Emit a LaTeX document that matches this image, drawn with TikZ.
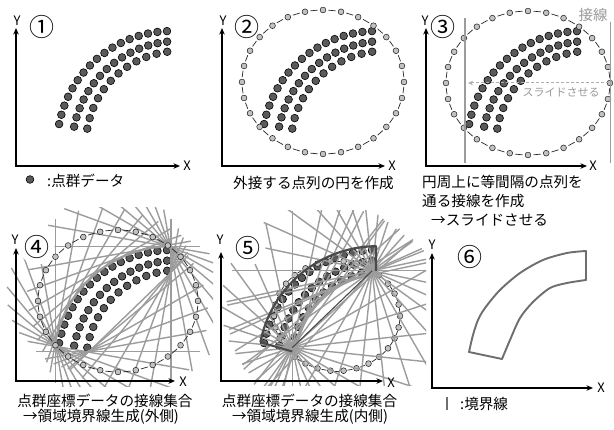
\documentclass[tikz,border=0pt]{standalone}
\usepackage{fontspec}
\setmainfont{Noto Sans CJK JP}
\usetikzlibrary{arrows.meta}
\definecolor{dotfill}{HTML}{5A5A5A}
\definecolor{ringfill}{HTML}{C2C2C2}
\definecolor{tlcol}{HTML}{9C9C9C}
\definecolor{bndcol}{HTML}{6E6E6E}
\definecolor{darkb}{HTML}{4A4A4A}
\definecolor{lgtext}{HTML}{9A9A9A}
\newcommand\banddots{%
  \foreach \cx/\cy/\R/\aa/\bb/\nn in {172/146/115/92.5/169/16,179/148/107/96.4/168.5/14,179/144/93/97.3/170.5/11}{%
    \foreach \k in {0,...,\nn}{%
      \pgfmathsetmacro\tang{\aa+(\bb-\aa)*\k/\nn}%
      \filldraw[bandpt] ({\cx+\R*cos(\tang)},{\cy-\R*sin(\tang)}) circle[radius=3.85];
    }}}
\newcommand\ringdots[6]{%
  \foreach \k in {1,...,#5}{%
    \pgfmathsetmacro\ta{#6+360*(\k+0.3)/#5}%
    \pgfmathsetmacro\tb{#6+360*(\k+0.7)/#5}%
    \draw[ringline] ({#1+#3*cos(\ta)},{#2-#4*sin(\ta)}) -- ({#1+#3*cos(\tb)},{#2-#4*sin(\tb)});
  }
  \foreach \k in {1,...,#5}{%
    \pgfmathsetmacro\ta{#6+360*\k/#5}%
    \filldraw[ringpt] ({#1+#3*cos(\ta)},{#2-#4*sin(\ta)}) circle[radius=2.9];
  }}
\newcommand\normline[6]{%
  \pgfmathsetmacro\prj{(#4-(#1))*sin(#3)+(#5-(#2))*cos(#3)}%
  \pgfmathsetmacro\Mx{#1+\prj*sin(#3)}%
  \pgfmathsetmacro\My{#2+\prj*cos(#3)}%
  \draw[tline] ({\Mx-#6*sin(#3)},{\My-#6*cos(#3)}) -- ({\Mx+#6*sin(#3)},{\My+#6*cos(#3)});}
\newcommand\hulllines[3]{%
  \foreach \ph in {0,10,...,350,314}{%
    \gdef\bestd{-9999}%
    \foreach \cx/\cy/\R/\aa/\bb/\nn in {172/146/115/92.5/169/16,179/148/107/96.4/168.5/14,179/144/93/97.3/170.5/11}{%
      \foreach \k in {0,...,\nn}{%
        \pgfmathsetmacro\tang{\aa+(\bb-\aa)*\k/\nn}%
        \pgfmathsetmacro\Px{\cx+\R*cos(\tang)}%
        \pgfmathsetmacro\Py{\cy-\R*sin(\tang)}%
        \pgfmathsetmacro\dval{\Px*cos(\ph)-\Py*sin(\ph)}%
        \pgfmathsetmacro\better{\dval>\bestd}%
        \ifdim\better pt>0.5pt\xdef\bestd{\dval}\xdef\bx{\Px}\xdef\by{\Py}\fi
      }}%
    \pgfmathsetmacro\Sx{\bx+3.8*cos(\ph)}%
    \pgfmathsetmacro\Sy{\by-3.8*sin(\ph)}%
    \normline{\Sx}{\Sy}{\ph}{#1}{#2}{#3}%
  }}
\begin{document}
\begin{tikzpicture}[x=1pt,y=-1pt,
  bandpt/.style={fill=dotfill, draw=black, line width=0.6pt},
  ringpt/.style={fill=ringfill, draw=black!85, line width=0.55pt},
  ringline/.style={draw=black!85, line width=0.7pt},
  tline/.style={draw=tlcol, line width=1.4pt},
  axisline/.style={line width=1.4pt, arrows={Stealth[length=6.5pt,width=5.5pt]-Stealth[length=6.5pt,width=5.5pt]}},
  captext/.style={inner sep=0pt, font=\fontsize{14.6}{16}\selectfont},
  lab/.style={inner sep=0pt, font=\fontsize{13}{14}\selectfont},
  num/.style={inner sep=0pt, font=\fontsize{25}{26}\selectfont},
  bndline/.style={draw=bndcol, line width=1.9pt, line join=round, line cap=round}]
\useasboundingbox (0,0) rectangle (614,430);
\fill[white] (0,0) rectangle (614,430);

% ---------- panel 1
\banddots
\draw[axisline] (16,28) -- (16,166) -- (180,166);
\node[lab] (y1) at (17,21) {Y};
\node[lab] (x1) at (187,166) {X};
\node[num] (n1) at (42,27) {①};
\filldraw[bandpt] (30,179.5) circle[radius=3.85];
\node[captext, anchor=west] (c1) at (47,180.5) {:点群データ};

% ---------- panel 2
\begin{scope}[shift={(205,0)}]
  \banddots
  \ringdots{118}{82}{81}{72}{28}{90}
\end{scope}
\draw[axisline] (222,28) -- (222,166) -- (385,166);
\node[lab] (y2) at (223,21) {Y};
\node[lab] (x2) at (392,166) {X};
\node[num] (n2) at (247,27) {②};
\node[captext] (c2) at (313.5,183) {外接する点列の円を作成};

% ---------- panel 3
\begin{scope}[shift={(410,0)}]
  \banddots
  \ringdots{118}{83}{82}{72}{28}{90}
\end{scope}
\draw[tline, line width=1.5pt] (465,18) -- (465,163);
\draw[tline, line width=1.5pt] (610.5,22) -- (610.5,163);
\coordinate (sr) at (609,83);
\coordinate (sl) at (468,83);
\draw[draw=lgtext!80, line width=1pt, dash pattern=on 3pt off 2pt, -{Stealth[length=5pt,width=4.5pt]}] (sr) -- (sl);
\node[inner sep=0pt, text=lgtext, font=\fontsize{11}{12}\selectfont] (sl3) at (561,92) {スライドさせる};
\node[inner sep=0pt, text=lgtext, font=\fontsize{14.5}{15}\selectfont] (tg3) at (593,15) {接線};
\draw[axisline] (426,28) -- (426,166) -- (587,166);
\node[lab] (y3) at (425,21) {Y};
\node[lab] (x3) at (593,166) {X};
\node[num] (n3) at (443,27) {③};
\node[captext, anchor=west] (c3a) at (422,182) {円周上に等間隔の点列を};
\node[captext, anchor=west] (c3b) at (422,200.5) {通る接線を作成};
\node[captext, anchor=west] (c3c) at (431,220) {→スライドさせる};

% ---------- panel 4
\begin{scope}[shift={(0,219)}]
  \banddots
\end{scope}
\begin{scope}
  \clip (2,208) rectangle (213,387);
  \begin{scope}[shift={(0,219)}]
    \hulllines{118}{82}{82}
  \end{scope}
\end{scope}
\begin{scope}[shift={(0,219)}]
  \draw[tline, line width=2pt] plot[domain=169:92.5, samples=40, variable=\s] ({172+118.8*cos(\s)},{146-118.8*sin(\s)});
  \ringdots{118}{82}{80}{71}{28}{90}
\end{scope}
\draw[axisline] (16,248) -- (16,381) -- (175,381);
\node[lab] (y4) at (15,240) {Y};
\node[lab] (x4) at (183,382) {X};
\node[num, fill=white, inner sep=0.3pt, circle] (n4) at (37,247) {④};
\node[captext] (c4a) at (105,401) {点群座標データの接線集合};
\node[captext] (c4b) at (101,417) {→領域境界線生成(外側)};

% ---------- panel 5
\begin{scope}[shift={(205,219)}]
  \banddots
  \ringdots{132}{97}{63}{55}{30}{0}
\end{scope}
\begin{scope}
  \clip (213,211) rectangle (426,386);
  \begin{scope}[shift={(205,219)}]
    \foreach \ph in {0,12,...,168} {\normline{87.28}{128.65}{\ph}{132}{97}{105}}
    \foreach \ph in {6,18,...,174} {\normline{167.18}{51.75}{\ph}{132}{97}{105}}
    \foreach \th in {102,112,...,162} {\normline{179+89.2*cos(\th)}{144-89.2*sin(\th)}{\th}{132}{97}{105}}
  \end{scope}
\end{scope}
\begin{scope}[shift={(205,219)}]
  \draw[tline, line width=2.8pt] plot[domain=97.3:170.5, samples=40, variable=\s] ({179+89.2*cos(\s)},{144-89.2*sin(\s)});
  \draw[darkb, line width=1.1pt] (87.28,128.65) -- (167.18,51.75);
  \draw[darkb, line width=2.2pt, line join=round] plot[domain=169:92.5, samples=40, variable=\s] ({172+118.8*cos(\s)},{146-118.8*sin(\s)}) -- (170.9,27.3) -- (170.9,52);
  \draw[darkb, line width=2pt] (55.4,123.3) -- (87.3,132.5);
\end{scope}
\draw[axisline] (221,252) -- (221,381) -- (383,381);
\node[lab] (y5) at (220,240) {Y};
\node[lab] (x5) at (391,383) {X};
\node[num, fill=white, inner sep=0.3pt, circle] (n5) at (248,248) {⑤};
\node[captext] (c5a) at (309.5,401) {点群座標データの接線集合};
\node[captext] (c5b) at (310,417) {→領域境界線生成(内側)};

% ---------- panel 6
\draw[bndline] plot[smooth, tension=0.5] coordinates {(502,359) (510,340) (520,318) (533,302) (550,288) (567,283) (586,280)};
\draw[bndline] plot[smooth, tension=0.5] coordinates {(586,251) (567,253) (543,260) (520,273) (500,290) (485,308) (478,320) (473,335) (469,352)};
\draw[bndline] (469,352) -- (502,359);
\draw[bndline] (586,280) -- (586,251);
\draw[axisline] (432,253) -- (432,388) -- (593,388);
\node[lab] (y6) at (432,245) {Y};
\node[lab] (x6) at (601,388) {X};
\node[num] (n6) at (470,257) {⑥};
\draw[draw=bndcol, line width=1.8pt] (447,397) -- (447,410);
\node[captext, anchor=west] (c6) at (460,404) {:境界線};
\end{tikzpicture}
\end{document}
